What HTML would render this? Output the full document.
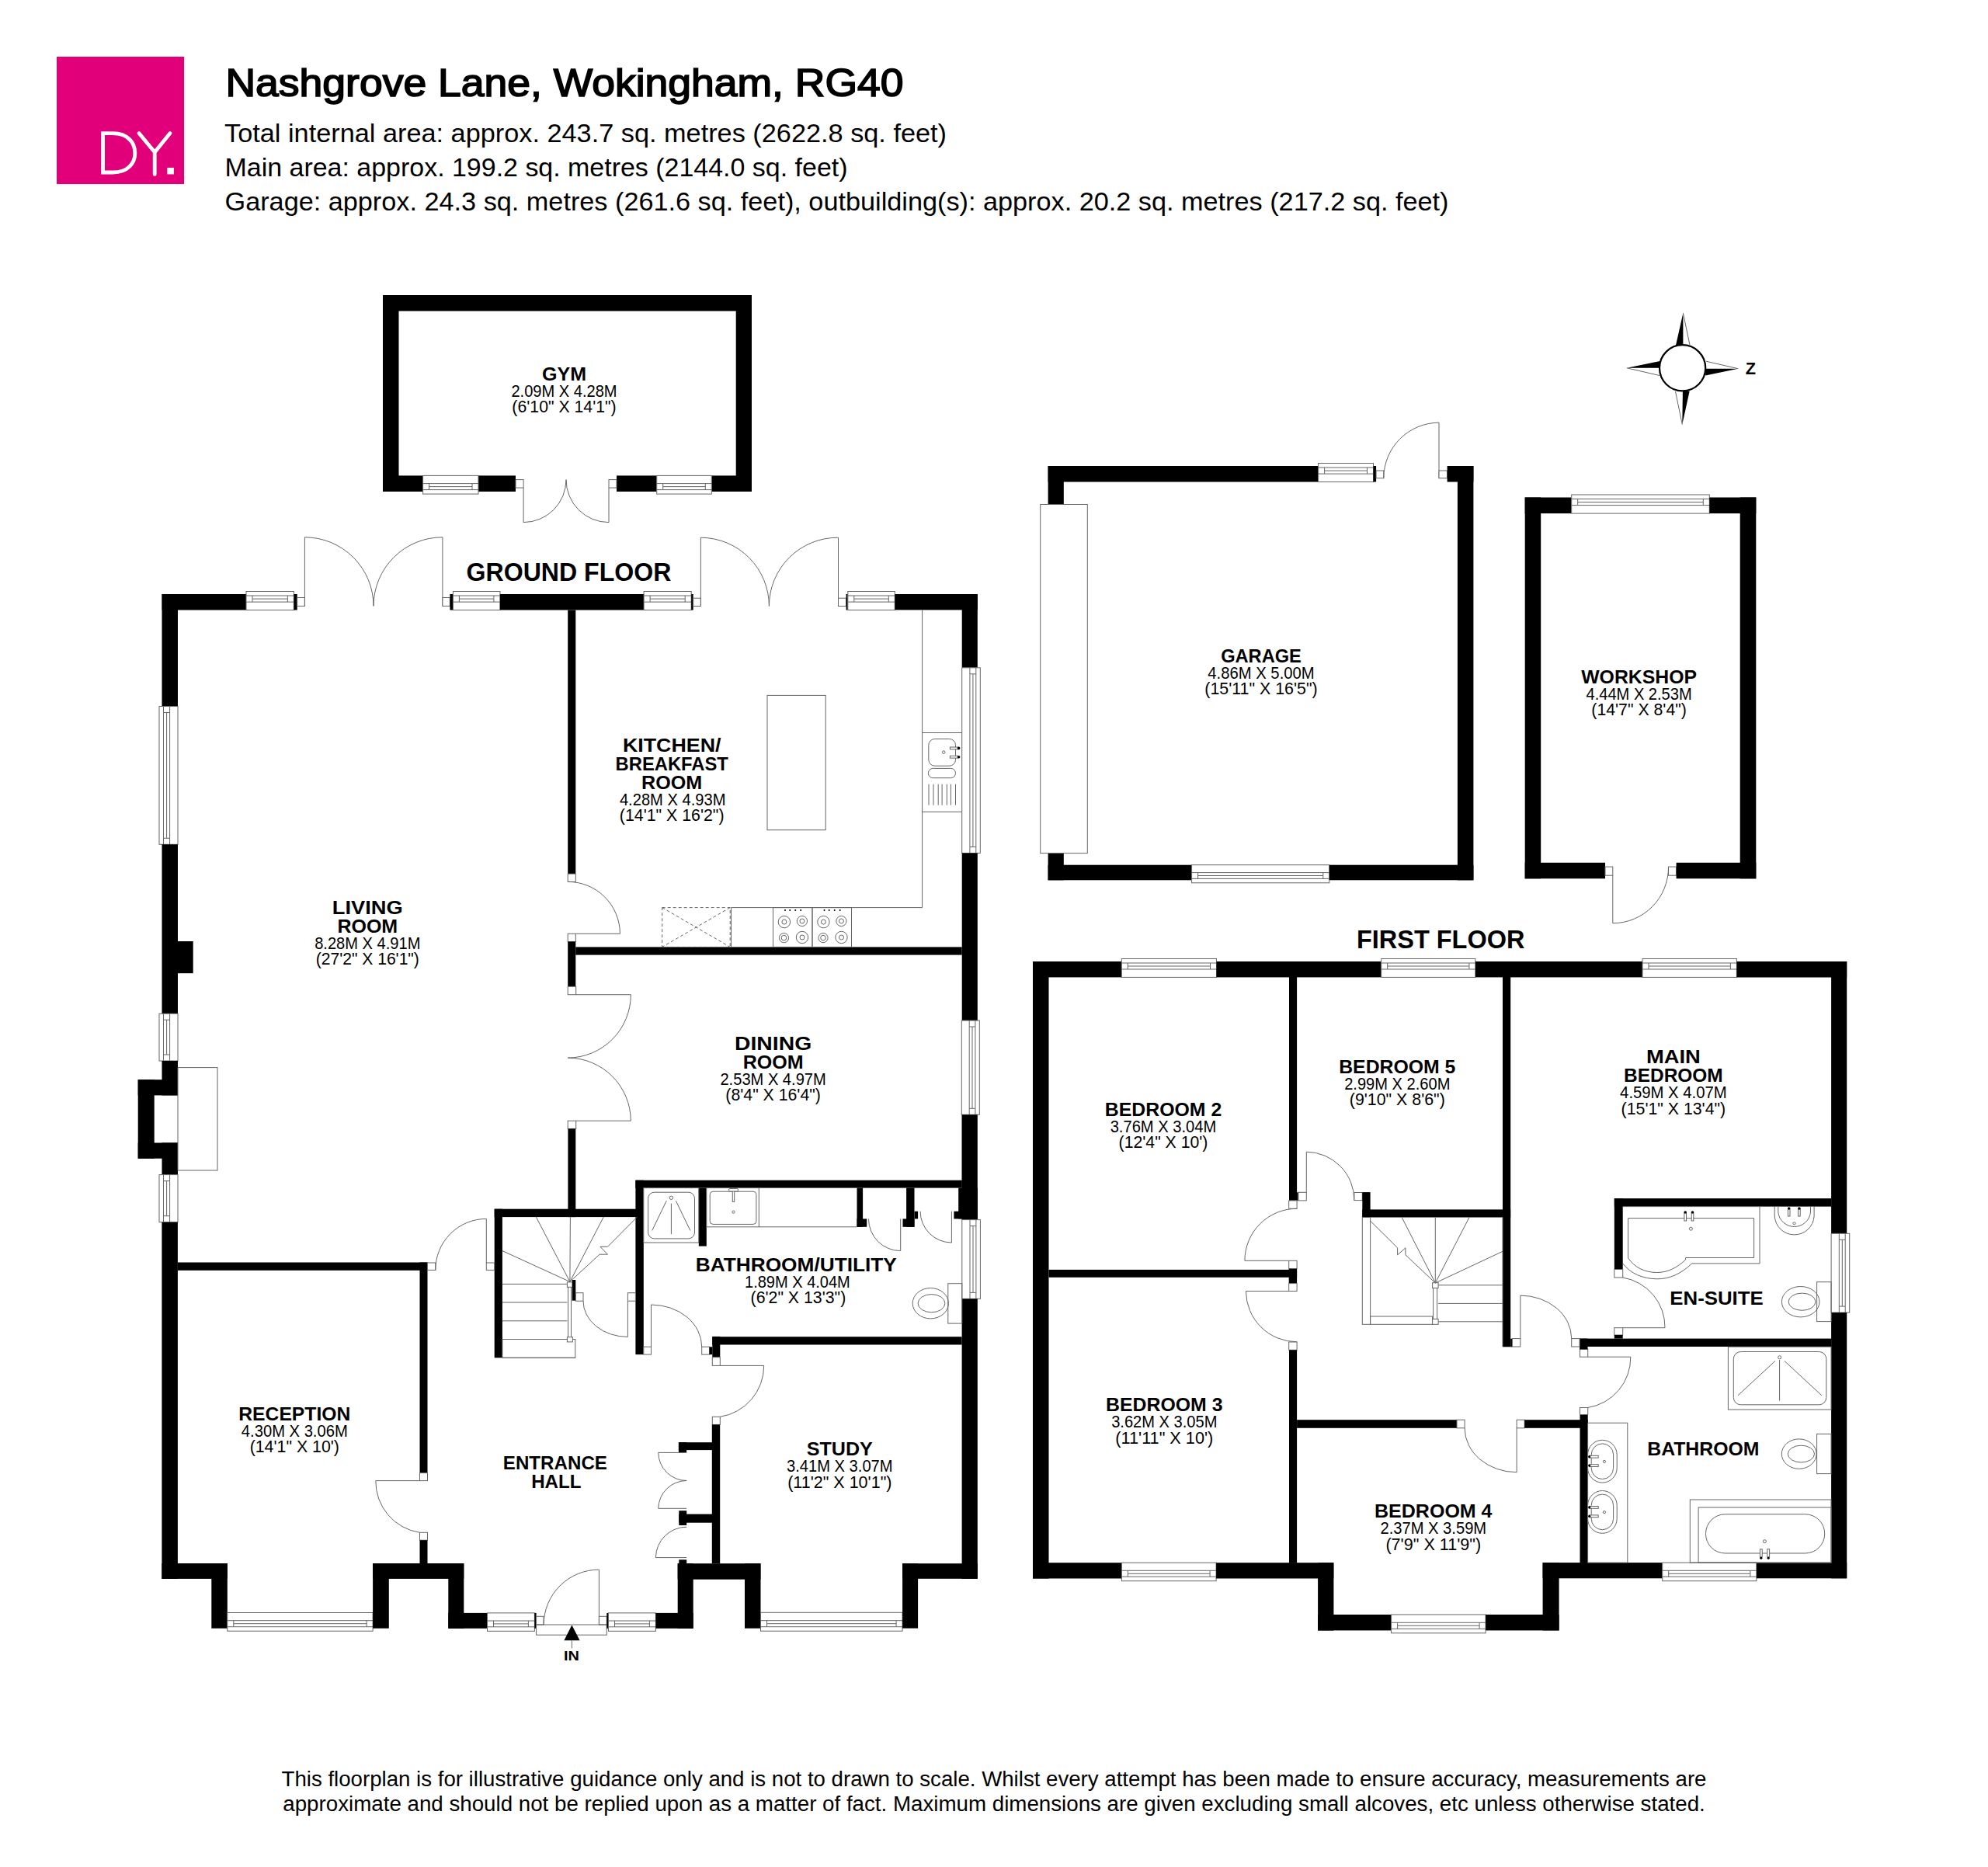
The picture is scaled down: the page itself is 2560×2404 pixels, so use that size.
<!DOCTYPE html>
<html><head><meta charset="utf-8"><title>Nashgrove Lane, Wokingham, RG40</title>
<style>
html,body{margin:0;padding:0;background:#fff;}
svg{display:block;}
.l{fill:none;stroke:#666;stroke-width:1.0;}
text{font-family:"Liberation Sans",sans-serif;fill:#000;}
text.b{font-weight:bold;}
text.m{stroke:#000;stroke-width:1.7;}
</style></head><body>
<svg width="2560" height="2404" viewBox="0 0 2560 2404">
<rect width="2560" height="2404" fill="#fff"/>
<rect x="73" y="73" width="164" height="164" fill="#e2007a"/><path d="M132.6 171.7 L145 171.7 C165 171.7 173.8 184 173.8 197 C173.8 210 165 222 145 222 L132.6 222 Z" fill="none" stroke="#fff" stroke-width="4.8"/><path d="M179 171.5 L199.2 196 L219 171.5 M199.2 196 L199.2 224.4" fill="none" stroke="#fff" stroke-width="4.8" stroke-linecap="round" stroke-linejoin="round"/><rect x="215.3" y="215.9" width="8.6" height="8.5" fill="#fff"/>
<g fill="#000">
<rect x="493" y="380" width="475" height="20.5"/>
<rect x="493" y="380" width="20.5" height="253"/>
<rect x="947.7" y="380" width="20.3" height="253"/>
<rect x="493" y="612.4" width="51.6" height="20.6"/>
<rect x="616" y="612.4" width="48" height="20.6"/>
<rect x="794" y="612.4" width="51.7" height="20.6"/>
<rect x="916.3" y="612.4" width="51.7" height="20.6"/>
<rect x="544.6" y="612.4" width="71.4" height="23.7" fill="#fff"/>
<rect class="l" x="544.6" y="612.4" width="71.4" height="23.7"/>
<path class="l" d="M544.6 622.6 L616 622.6"/>
<path class="l" d="M552.6 626.6 L608 626.6"/>
<path class="l" d="M544.6 630.6 L616 630.6"/>
<path class="l" d="M552.6 622.6 L552.6 630.6"/>
<path class="l" d="M608 622.6 L608 630.6"/>
<rect x="845.7" y="612.4" width="70.6" height="23.7" fill="#fff"/>
<rect class="l" x="845.7" y="612.4" width="70.6" height="23.7"/>
<path class="l" d="M845.7 622.6 L916.3 622.6"/>
<path class="l" d="M853.7 626.6 L908.3 626.6"/>
<path class="l" d="M845.7 630.6 L916.3 630.6"/>
<path class="l" d="M853.7 622.6 L853.7 630.6"/>
<path class="l" d="M908.3 622.6 L908.3 630.6"/>
<rect class="l" x="664" y="617.6" width="10.1" height="10.5" style="fill:#fff"/>
<rect class="l" x="784" y="617.6" width="10" height="10.5" style="fill:#fff"/>
<path class="l" d="M674.1 628.1 L674.1 672.6"/>
<path class="l" d="M674.1 672.6 A55 55 0 0 0 729 617.6"/>
<path class="l" d="M784 628.1 L784 672.6"/>
<path class="l" d="M784 672.6 A55 55 0 0 1 729 617.6"/>
<rect x="208.6" y="765" width="108.4" height="20.5"/>
<rect x="317" y="761.5" width="61.4" height="24" fill="#fff"/>
<rect class="l" x="317" y="761.5" width="61.4" height="24"/>
<path class="l" d="M317 775.1 L378.4 775.1"/>
<path class="l" d="M325 771.1 L370.4 771.1"/>
<path class="l" d="M317 767 L378.4 767"/>
<path class="l" d="M325 775.1 L325 767"/>
<path class="l" d="M370.4 775.1 L370.4 767"/>
<rect x="378.4" y="765" width="4.3" height="20.5"/>
<rect class="l" x="382.7" y="769.5" width="9.7" height="10.9" style="fill:#fff"/>
<path class="l" d="M392.4 780.4 L392.4 691.8"/>
<path class="l" d="M392.4 691.8 A88.6 88.6 0 0 1 481 780.4"/>
<path class="l" d="M569.9 780.4 L569.9 691.8"/>
<path class="l" d="M569.9 691.8 A88.6 88.6 0 0 0 481 780.4"/>
<rect class="l" x="569.9" y="769.5" width="9.5" height="10.9" style="fill:#fff"/>
<rect x="579.4" y="765" width="4" height="20.5"/>
<rect x="583.4" y="761.5" width="60.5" height="24" fill="#fff"/>
<rect class="l" x="583.4" y="761.5" width="60.5" height="24"/>
<path class="l" d="M583.4 775.1 L643.9 775.1"/>
<path class="l" d="M591.4 771.1 L635.9 771.1"/>
<path class="l" d="M583.4 767 L643.9 767"/>
<path class="l" d="M591.4 775.1 L591.4 767"/>
<path class="l" d="M635.9 775.1 L635.9 767"/>
<rect x="643.9" y="765" width="185.2" height="20.5"/>
<rect x="829.1" y="761.5" width="61.1" height="24" fill="#fff"/>
<rect class="l" x="829.1" y="761.5" width="61.1" height="24"/>
<path class="l" d="M829.1 775.1 L890.2 775.1"/>
<path class="l" d="M837.1 771.1 L882.2 771.1"/>
<path class="l" d="M829.1 767 L890.2 767"/>
<path class="l" d="M837.1 775.1 L837.1 767"/>
<path class="l" d="M882.2 775.1 L882.2 767"/>
<rect x="890.2" y="765" width="2.5" height="20.5"/>
<rect class="l" x="892.7" y="770.2" width="9.7" height="10.3" style="fill:#fff"/>
<path class="l" d="M902.4 780.5 L902.4 692.2"/>
<path class="l" d="M902.4 692.2 A88.3 88.3 0 0 1 990.4 780.5"/>
<path class="l" d="M1079.5 780.5 L1079.5 692.2"/>
<path class="l" d="M1079.5 692.2 A88.3 88.3 0 0 0 990.4 780.5"/>
<rect class="l" x="1079.5" y="770.2" width="10.1" height="10.3" style="fill:#fff"/>
<rect x="1089.6" y="765" width="2.2" height="20.5"/>
<rect x="1091.8" y="761.5" width="60.5" height="24" fill="#fff"/>
<rect class="l" x="1091.8" y="761.5" width="60.5" height="24"/>
<path class="l" d="M1091.8 775.1 L1152.3 775.1"/>
<path class="l" d="M1099.8 771.1 L1144.3 771.1"/>
<path class="l" d="M1091.8 767 L1152.3 767"/>
<path class="l" d="M1099.8 775.1 L1099.8 767"/>
<path class="l" d="M1144.3 775.1 L1144.3 767"/>
<rect x="1152.3" y="765" width="106.5" height="20.4"/>
<rect x="208.5" y="765" width="20.5" height="144.5"/>
<rect x="205" y="909.5" width="24" height="177.8" fill="#fff"/>
<rect class="l" x="205" y="909.5" width="24" height="177.8"/>
<path class="l" d="M218.6 909.5 L218.6 1087.3"/>
<path class="l" d="M214.6 917.5 L214.6 1079.3"/>
<path class="l" d="M210.5 909.5 L210.5 1087.3"/>
<path class="l" d="M218.6 917.5 L210.5 917.5"/>
<path class="l" d="M218.6 1079.3 L210.5 1079.3"/>
<rect x="208.5" y="1087.3" width="20.5" height="217.9"/>
<rect x="229" y="1212" width="19.7" height="41.2"/>
<rect x="205" y="1305.2" width="24" height="60.8" fill="#fff"/>
<rect class="l" x="205" y="1305.2" width="24" height="60.8"/>
<path class="l" d="M218.6 1305.2 L218.6 1366"/>
<path class="l" d="M214.6 1313.2 L214.6 1358"/>
<path class="l" d="M210.5 1305.2 L210.5 1366"/>
<path class="l" d="M218.6 1313.2 L210.5 1313.2"/>
<path class="l" d="M218.6 1358 L210.5 1358"/>
<rect x="208.5" y="1366" width="20.5" height="44.4"/>
<rect x="177.7" y="1390.2" width="51.3" height="20.2"/>
<rect x="177.7" y="1390.2" width="21" height="101.5"/>
<rect x="177.7" y="1471.5" width="51.3" height="20.2"/>
<rect x="208.5" y="1471.5" width="20.5" height="41.1"/>
<rect class="l" x="229" y="1374.6" width="51" height="132.4"/>
<rect x="205" y="1512.6" width="24" height="61.1" fill="#fff"/>
<rect class="l" x="205" y="1512.6" width="24" height="61.1"/>
<path class="l" d="M218.6 1512.6 L218.6 1573.7"/>
<path class="l" d="M214.6 1520.6 L214.6 1565.7"/>
<path class="l" d="M210.5 1512.6 L210.5 1573.7"/>
<path class="l" d="M218.6 1520.6 L210.5 1520.6"/>
<path class="l" d="M218.6 1565.7 L210.5 1565.7"/>
<rect x="208.4" y="1573.7" width="20.5" height="459.2"/>
<rect x="1238.7" y="765" width="20.1" height="94.8"/>
<rect x="1238.7" y="859.8" width="23.6" height="238.7" fill="#fff"/>
<rect class="l" x="1238.7" y="859.8" width="23.6" height="238.7"/>
<path class="l" d="M1248.9 859.8 L1248.9 1098.5"/>
<path class="l" d="M1252.9 867.8 L1252.9 1090.5"/>
<path class="l" d="M1256.8 859.8 L1256.8 1098.5"/>
<path class="l" d="M1248.9 867.8 L1256.8 867.8"/>
<path class="l" d="M1248.9 1090.5 L1256.8 1090.5"/>
<rect x="1238.7" y="1098.5" width="20.1" height="215.5"/>
<rect x="1238.3" y="1314" width="23" height="121.3" fill="#fff"/>
<rect class="l" x="1238.3" y="1314" width="23" height="121.3"/>
<path class="l" d="M1248.2 1314 L1248.2 1435.3"/>
<path class="l" d="M1252 1322 L1252 1427.3"/>
<path class="l" d="M1255.9 1314 L1255.9 1435.3"/>
<path class="l" d="M1248.2 1322 L1255.9 1322"/>
<path class="l" d="M1248.2 1427.3 L1255.9 1427.3"/>
<rect x="1238.5" y="1435.3" width="20.3" height="135.3"/>
<rect x="1238.8" y="1570.6" width="23.6" height="101.8" fill="#fff"/>
<rect class="l" x="1238.8" y="1570.6" width="23.6" height="101.8"/>
<path class="l" d="M1249 1570.6 L1249 1672.4"/>
<path class="l" d="M1253 1578.6 L1253 1664.4"/>
<path class="l" d="M1256.9 1570.6 L1256.9 1672.4"/>
<path class="l" d="M1249 1578.6 L1256.9 1578.6"/>
<path class="l" d="M1249 1664.4 L1256.9 1664.4"/>
<rect x="1238.6" y="1672.4" width="20.2" height="360.4"/>
<rect x="208.4" y="2013" width="84.4" height="19.9"/>
<rect x="272.3" y="2013" width="20.5" height="83.7"/>
<rect x="292.8" y="2076.5" width="187.3" height="23.7" fill="#fff"/>
<rect class="l" x="292.8" y="2076.5" width="187.3" height="23.7"/>
<path class="l" d="M292.8 2086.7 L480.1 2086.7"/>
<path class="l" d="M300.8 2090.7 L472.1 2090.7"/>
<path class="l" d="M292.8 2094.7 L480.1 2094.7"/>
<path class="l" d="M300.8 2086.7 L300.8 2094.7"/>
<path class="l" d="M472.1 2086.7 L472.1 2094.7"/>
<rect x="480.1" y="2013" width="20.7" height="83.7"/>
<rect x="480.1" y="2013" width="117.2" height="19.9"/>
<rect x="577.3" y="2013" width="20" height="83.8"/>
<rect x="577.3" y="2076.9" width="50.2" height="19.9"/>
<rect x="627.5" y="2076.9" width="60.9" height="23.4" fill="#fff"/>
<rect class="l" x="627.5" y="2076.9" width="60.9" height="23.4"/>
<path class="l" d="M627.5 2087 L688.4 2087"/>
<path class="l" d="M635.5 2090.9 L680.4 2090.9"/>
<path class="l" d="M627.5 2094.8 L688.4 2094.8"/>
<path class="l" d="M635.5 2087 L635.5 2094.8"/>
<path class="l" d="M680.4 2087 L680.4 2094.8"/>
<rect x="688.4" y="2076.9" width="2.2" height="19.9"/>
<rect class="l" x="690.6" y="2081.3" width="9.5" height="10.7" style="fill:#fff"/>
<path class="l" d="M771.4 2092 L771.4 2021.1"/>
<path class="l" d="M771.4 2021.1 A71.3 71.3 0 0 0 700.1 2092"/>
<rect class="l" x="771.4" y="2081.3" width="9.9" height="10.7" style="fill:#fff"/>
<rect class="l" x="690.6" y="2092" width="90.7" height="13.2"/>
<rect x="781.3" y="2076.9" width="2.2" height="19.9"/>
<rect x="783.5" y="2076.9" width="60.9" height="23.4" fill="#fff"/>
<rect class="l" x="783.5" y="2076.9" width="60.9" height="23.4"/>
<path class="l" d="M783.5 2087 L844.4 2087"/>
<path class="l" d="M791.5 2090.9 L836.4 2090.9"/>
<path class="l" d="M783.5 2094.8 L844.4 2094.8"/>
<path class="l" d="M791.5 2087 L791.5 2094.8"/>
<path class="l" d="M836.4 2087 L836.4 2094.8"/>
<rect x="844.4" y="2076.9" width="48.3" height="19.9"/>
<rect x="872.7" y="2013.2" width="20" height="83.6"/>
<rect x="872.7" y="2013.2" width="106.7" height="20.5"/>
<rect x="959" y="2013.2" width="20.5" height="83.5"/>
<rect x="979.5" y="2076.3" width="182.6" height="23.9" fill="#fff"/>
<rect class="l" x="979.5" y="2076.3" width="182.6" height="23.9"/>
<path class="l" d="M979.5 2086.7 L1162.1 2086.7"/>
<path class="l" d="M987.5 2090.7 L1154.1 2090.7"/>
<path class="l" d="M979.5 2094.7 L1162.1 2094.7"/>
<path class="l" d="M987.5 2086.7 L987.5 2094.7"/>
<path class="l" d="M1154.1 2086.7 L1154.1 2094.7"/>
<rect x="1162.1" y="2013.2" width="20" height="83.4"/>
<rect x="1162.1" y="2013.2" width="96.7" height="19.6"/>
<path d="M736.4 2092.4 L746.6 2112.3 L726.4 2112.3 Z"/>
<path class="l" d="M736.4 2112.3 L736.4 2122.3"/>
<rect x="731.2" y="785.5" width="10.1" height="339.7"/>
<rect class="l" x="731.2" y="1125.2" width="10.1" height="10.2" style="fill:#fff"/>
<path class="l" d="M731.2 1135.4 A67 67 0 0 1 798.4 1202.3"/>
<path class="l" d="M741.3 1202.3 L798.4 1202.3"/>
<rect class="l" x="731.2" y="1202.3" width="10.1" height="10.2" style="fill:#fff"/>
<rect x="731.2" y="1212.5" width="10.1" height="57.8"/>
<rect x="741.3" y="1219.4" width="497.4" height="10.2"/>
<rect class="l" x="731.2" y="1270.3" width="10.5" height="10.4" style="fill:#fff"/>
<path class="l" d="M741.7 1280.7 L812.3 1280.7"/>
<path class="l" d="M812.3 1280.7 A81.3 81.3 0 0 1 731.2 1362.1"/>
<path class="l" d="M741.7 1443.2 L812.3 1443.2"/>
<path class="l" d="M812.3 1443.2 A81.3 81.3 0 0 0 731.2 1362.1"/>
<rect class="l" x="731.2" y="1443.2" width="10.5" height="10.2" style="fill:#fff"/>
<rect x="731.4" y="1453.4" width="9.9" height="113.7"/>
<rect x="818.4" y="1519.7" width="420.4" height="9.9"/>
<rect x="818.4" y="1519.7" width="10.4" height="224.4"/>
<rect x="636.7" y="1556.7" width="183.7" height="10.4"/>
<rect x="636.7" y="1556.7" width="10.2" height="191.6"/>
<rect x="899.8" y="1529.6" width="10" height="75"/>
<rect x="1103.5" y="1529.6" width="7.6" height="50.2"/>
<rect x="1103.5" y="1569.4" width="12.7" height="10.4"/>
<rect x="1167.1" y="1529.6" width="10.4" height="50.2"/>
<rect x="1162.5" y="1569.4" width="15" height="10.4"/>
<rect x="1177.5" y="1559.7" width="4.6" height="9.7"/>
<rect x="1228.4" y="1559.7" width="10.4" height="9.7"/>
<rect x="1234.2" y="1529.6" width="24.7" height="39.8"/>
<path class="l" d="M1159.7 1569.4 L1159.7 1610.6"/>
<path class="l" d="M1118.5 1569.4 A41.2 41.2 0 0 0 1159.7 1610.6"/>
<path class="l" d="M1225.4 1559.7 L1225.4 1600"/>
<path class="l" d="M1185.1 1559.7 A40.3 40.3 0 0 0 1225.4 1600"/>
<rect class="l" x="828.8" y="1529.6" width="71" height="70.4"/>
<rect class="l" x="834.6" y="1535.2" width="59.9" height="59.7" rx="8"/>
<circle class="l" cx="864.4" cy="1542.3" r="2.2"/>
<path class="l" d="M858.2 1546.3 L839.7 1584.5"/>
<path class="l" d="M864.4 1549.7 L864.4 1589.1"/>
<path class="l" d="M870.4 1546.3 L888.9 1584.5"/>
<rect class="l" x="909.8" y="1529.6" width="67.5" height="50.2"/>
<rect class="l" x="914.2" y="1534.2" width="59.7" height="42.2" rx="4"/>
<path class="l" d="M977.3 1579.8 L1103.5 1579.8"/>
<rect class="l" x="943.3" y="1531" width="2.4" height="16.4" style="fill:#fff"/>
<rect class="l" x="938.5" y="1530.5" width="12" height="3.5" rx="1.5" style="fill:#fff"/>
<circle class="l" cx="944.5" cy="1560.6" r="1.6"/>
<rect class="l" x="1220.8" y="1652.7" width="18" height="51.4"/>
<ellipse class="l" cx="1198.3" cy="1678.2" rx="23.1" ry="19.7"/>
<ellipse class="l" cx="1199.5" cy="1678.2" rx="17.4" ry="11.6"/>
<rect x="229" y="1625.5" width="321.5" height="10.3"/>
<rect x="540.5" y="1625.5" width="10" height="271.1"/>
<rect class="l" x="540.5" y="1896.6" width="10" height="10" style="fill:#fff"/>
<path class="l" d="M540.5 1906.6 L483.8 1906.6"/>
<path class="l" d="M483.8 1906.6 A66.7 66.7 0 0 0 540.5 1973.3"/>
<rect class="l" x="540.5" y="1973.3" width="10" height="9.9" style="fill:#fff"/>
<rect x="540.5" y="1983.2" width="10" height="29.8"/>
<rect class="l" x="550.4" y="1626" width="10.4" height="9.4" style="fill:#fff"/>
<path class="l" d="M560.8 1635.4 A65.5 65.5 0 0 1 626.3 1569.4"/>
<path class="l" d="M626.3 1569.4 L626.3 1626"/>
<rect class="l" x="626.3" y="1626" width="10.4" height="9.4" style="fill:#fff"/>
<path class="l" d="M646.9 1653.4 L730.4 1653.4"/>
<path class="l" d="M646.9 1677 L730.4 1677"/>
<path class="l" d="M646.9 1700.8 L730.4 1700.8"/>
<path class="l" d="M646.9 1724.5 L730.4 1724.5"/>
<rect class="l" x="646.9" y="1724.5" width="93.9" height="23.8"/>
<path class="l" d="M646.9 1748.3 L740.8 1748.3"/>
<rect class="l" x="730.4" y="1650.9" width="7" height="6.4" style="fill:#fff"/>
<rect class="l" x="730.4" y="1721.7" width="7" height="6.2" style="fill:#fff"/>
<path class="l" d="M731.6 1657.3 L731.6 1721.7"/>
<path class="l" d="M735.5 1657.3 L735.5 1721.7"/>
<path class="l" d="M733.9 1650.4 L646.9 1610.6"/>
<path class="l" d="M733.9 1650.4 L690.4 1567.1"/>
<path class="l" d="M733.9 1650.4 L734.4 1567.1"/>
<path class="l" d="M733.9 1650.4 L777.2 1567.1"/>
<path class="l" d="M733.9 1650.4 L772.1 1615.2 L782.5 1615.2 L772.9 1605.3 L782.5 1605.3 L820.4 1567.1"/>
<rect x="736.7" y="1648" width="4.6" height="26.7"/>
<rect class="l" x="741.3" y="1664.7" width="9.7" height="10.5" style="fill:#fff"/>
<path class="l" d="M751 1675.2 A57.4 46.2 0 0 0 808.4 1721.4"/>
<path class="l" d="M808.4 1675.2 L808.4 1721.4"/>
<rect class="l" x="808.4" y="1664.7" width="10" height="10.5" style="fill:#fff"/>
<rect class="l" x="828.8" y="1734.2" width="9.7" height="9.9" style="fill:#fff"/>
<path class="l" d="M838.5 1734.2 L838.5 1680"/>
<path class="l" d="M838.5 1680 A65.2 54.2 0 0 1 903.7 1734.2"/>
<rect class="l" x="903.7" y="1734.2" width="9.8" height="9.9" style="fill:#fff"/>
<rect x="913.5" y="1734.3" width="3.8" height="9.8"/>
<rect x="917.3" y="1720.9" width="10" height="26.8"/>
<rect x="917.3" y="1721.2" width="321.3" height="10.3"/>
<rect class="l" x="917.3" y="1747.7" width="10" height="10.7" style="fill:#fff"/>
<path class="l" d="M927.3 1758.4 L983.7 1758.4"/>
<path class="l" d="M983.7 1758.4 A66.4 66.4 0 0 1 927.3 1824.3"/>
<rect class="l" x="917.3" y="1824.3" width="10" height="10.1" style="fill:#fff"/>
<rect x="916.8" y="1834.4" width="10.4" height="178.8"/>
<rect x="873.9" y="1857.2" width="43.1" height="9.9"/>
<rect x="873.9" y="1857.2" width="10.2" height="13.1"/>
<rect x="874.3" y="1949.6" width="42.7" height="11.1"/>
<rect x="874.3" y="1945.2" width="9.9" height="18.8"/>
<rect x="874.3" y="2008.3" width="9.9" height="6.7"/>
<path class="l" d="M847.7 1870.4 L884.2 1870.4"/>
<path class="l" d="M847.7 1870.4 A36.5 36.5 0 0 0 884.2 1906.5"/>
<path class="l" d="M847.7 1942.3 L884.2 1942.3"/>
<path class="l" d="M847.7 1942.3 A36.5 36.5 0 0 1 884.2 1906.5"/>
<path class="l" d="M844.4 2005.6 L884.2 2005.6"/>
<path class="l" d="M844.4 2005.6 A39.8 39.8 0 0 1 884.2 1966.2"/>
<rect class="l" x="988" y="895.4" width="75.2" height="173.3"/>
<path class="l" d="M1187.6 785.5 L1187.6 1168.6 L941.5 1168.6"/>
<path class="l" d="M1187.6 943.5 L1238.7 943.5"/>
<path class="l" d="M1187.6 1045.4 L1238.7 1045.4"/>
<rect class="l" x="1195.8" y="951.5" width="34.7" height="34.7" rx="8"/>
<rect class="l" x="1195.4" y="989.4" width="35.1" height="12.3" rx="6"/>
<circle class="l" cx="1215.2" cy="968.6" r="1.8"/>
<rect class="l" x="1223.4" y="962" width="10.6" height="2.8" style="fill:#fff"/>
<circle cx="1234.6" cy="963.4" r="1.8"/>
<rect class="l" x="1223.4" y="973.3" width="10.6" height="2.8" style="fill:#fff"/>
<circle cx="1234.6" cy="974.7" r="1.8"/>
<path class="l" d="M1196 1009.7 L1196 1036.7"/>
<path class="l" d="M1202 1009.7 L1202 1036.7"/>
<path class="l" d="M1208.2 1009.7 L1208.2 1036.7"/>
<path class="l" d="M1213.1 1009.7 L1213.1 1036.7"/>
<path class="l" d="M1219.3 1009.7 L1219.3 1036.7"/>
<path class="l" d="M1224.4 1009.7 L1224.4 1036.7"/>
<path class="l" d="M1230.5 1009.7 L1230.5 1036.7"/>
<g class="l" style="stroke-dasharray:4 3"><rect x="852.7" y="1168.6" width="87.5" height="50.8"/><path d="M852.7 1168.6 L940.2 1219.4 M940.2 1168.6 L852.7 1219.4"/></g>
<path class="l" d="M941.5 1168.6 L941.5 1219.4"/>
<rect class="l" x="995.5" y="1168.6" width="50.5" height="50.8"/>
<circle cx="1011" cy="1171.9" r="1"/>
<circle cx="1017.2" cy="1171.9" r="1"/>
<circle cx="1024.2" cy="1171.9" r="1"/>
<circle cx="1031.2" cy="1171.9" r="1"/>
<circle class="l" cx="1009.9" cy="1187.1" r="7.7"/>
<circle class="l" cx="1009.9" cy="1187.1" r="3"/>
<circle class="l" cx="1032.9" cy="1186" r="6.6"/>
<circle class="l" cx="1032.9" cy="1186" r="3"/>
<circle class="l" cx="1009.5" cy="1207.6" r="6.1"/>
<circle class="l" cx="1009.5" cy="1207.6" r="3.3"/>
<circle class="l" cx="1033" cy="1207" r="7.7"/>
<circle class="l" cx="1033" cy="1207" r="3"/>
<rect class="l" x="1046" y="1168.6" width="50.5" height="50.8"/>
<circle cx="1061.5" cy="1171.9" r="1"/>
<circle cx="1067.7" cy="1171.9" r="1"/>
<circle cx="1074.7" cy="1171.9" r="1"/>
<circle cx="1081.7" cy="1171.9" r="1"/>
<circle class="l" cx="1060.4" cy="1187.1" r="7.7"/>
<circle class="l" cx="1060.4" cy="1187.1" r="3"/>
<circle class="l" cx="1083.4" cy="1186" r="6.6"/>
<circle class="l" cx="1083.4" cy="1186" r="3"/>
<circle class="l" cx="1060" cy="1207.6" r="6.1"/>
<circle class="l" cx="1060" cy="1207.6" r="3.3"/>
<circle class="l" cx="1083.5" cy="1207" r="7.7"/>
<circle class="l" cx="1083.5" cy="1207" r="3"/>
<rect x="1349.6" y="600" width="348" height="20.5"/>
<rect x="1697.6" y="596.5" width="70.9" height="24" fill="#fff"/>
<rect class="l" x="1697.6" y="596.5" width="70.9" height="24"/>
<path class="l" d="M1697.6 610.1 L1768.5 610.1"/>
<path class="l" d="M1705.6 606.1 L1760.5 606.1"/>
<path class="l" d="M1697.6 602 L1768.5 602"/>
<path class="l" d="M1705.6 610.1 L1705.6 602"/>
<path class="l" d="M1760.5 610.1 L1760.5 602"/>
<rect x="1768.5" y="600" width="3.6" height="20.5"/>
<rect class="l" x="1772.1" y="606" width="9.7" height="9.7" style="fill:#fff"/>
<path class="l" d="M1853 615.7 L1853 544.2"/>
<path class="l" d="M1853 544.2 A71.5 71.5 0 0 0 1781.8 615.7"/>
<rect class="l" x="1853" y="606" width="10.6" height="9.7" style="fill:#fff"/>
<rect x="1863.6" y="600" width="33.8" height="20.5"/>
<rect x="1349.6" y="600" width="20.2" height="49.5"/>
<rect x="1349.6" y="1098.6" width="20.2" height="34.7"/>
<rect class="l" x="1339.7" y="649.5" width="60.6" height="449.1" style="fill:#fff"/>
<rect x="1876.9" y="600" width="20.5" height="533.3"/>
<rect x="1349.6" y="1113.7" width="185" height="19.6"/>
<rect x="1534.6" y="1113.7" width="177.2" height="23.1" fill="#fff"/>
<rect class="l" x="1534.6" y="1113.7" width="177.2" height="23.1"/>
<path class="l" d="M1534.6 1123.6 L1711.8 1123.6"/>
<path class="l" d="M1542.6 1127.5 L1703.8 1127.5"/>
<path class="l" d="M1534.6 1131.4 L1711.8 1131.4"/>
<path class="l" d="M1542.6 1123.6 L1542.6 1131.4"/>
<path class="l" d="M1703.8 1123.6 L1703.8 1131.4"/>
<rect x="1711.8" y="1113.7" width="185.6" height="19.6"/>
<rect x="1963.7" y="640.5" width="20.5" height="490.8"/>
<rect x="2240.7" y="640.5" width="20.6" height="490.8"/>
<rect x="1963.7" y="640.5" width="60" height="20.6"/>
<rect x="2023.7" y="637" width="177.6" height="24.1" fill="#fff"/>
<rect class="l" x="2023.7" y="637" width="177.6" height="24.1"/>
<path class="l" d="M2023.7 650.6 L2201.3 650.6"/>
<path class="l" d="M2031.7 646.6 L2193.3 646.6"/>
<path class="l" d="M2023.7 642.5 L2201.3 642.5"/>
<path class="l" d="M2031.7 650.6 L2031.7 642.5"/>
<path class="l" d="M2193.3 650.6 L2193.3 642.5"/>
<rect x="2201.3" y="640.5" width="60" height="20.6"/>
<rect x="1963.7" y="1110.8" width="103.3" height="20.5"/>
<rect class="l" x="2067" y="1116.1" width="9.8" height="11.1" style="fill:#fff"/>
<path class="l" d="M2076.8 1127.2 L2076.8 1188.8"/>
<path class="l" d="M2076.8 1188.8 A72 72 0 0 0 2148.5 1116.1"/>
<rect class="l" x="2148.5" y="1116.1" width="10.1" height="11.1" style="fill:#fff"/>
<rect x="2158.6" y="1110.8" width="102.7" height="20.5"/>
<circle cx="2166.6" cy="473.8" r="29.6" fill="#fff" stroke="#000" stroke-width="2.2"/>
<path d="M2167.4 403.1 L2157.8 445.5 L2167.4 444.2 Z"/>
<path class="l" d="M2167.4 403.1 L2176 444.2"/>
<path d="M2166.3 546.6 L2175.7 503.4 L2166.9 503.8 Z"/>
<path class="l" d="M2166.3 546.6 L2157.5 504"/>
<path d="M2094.9 473.8 L2137.5 465 L2137.5 473.8 Z"/>
<path class="l" d="M2094.9 473.8 L2137 483.5"/>
<path d="M2238.2 474.7 L2196.2 483.5 L2196.2 474.7 Z"/>
<path class="l" d="M2238.2 474.7 L2197 465.2"/>
<rect x="1330" y="1238" width="114.3" height="20.4"/>
<rect x="1444.3" y="1234.5" width="122.2" height="23.9" fill="#fff"/>
<rect class="l" x="1444.3" y="1234.5" width="122.2" height="23.9"/>
<path class="l" d="M1444.3 1248 L1566.5 1248"/>
<path class="l" d="M1452.3 1244 L1558.5 1244"/>
<path class="l" d="M1444.3 1240 L1566.5 1240"/>
<path class="l" d="M1452.3 1248 L1452.3 1240"/>
<path class="l" d="M1558.5 1248 L1558.5 1240"/>
<rect x="1566.5" y="1238" width="212.2" height="20.4"/>
<rect x="1778.7" y="1234.5" width="121.2" height="23.9" fill="#fff"/>
<rect class="l" x="1778.7" y="1234.5" width="121.2" height="23.9"/>
<path class="l" d="M1778.7 1248 L1899.9 1248"/>
<path class="l" d="M1786.7 1244 L1891.9 1244"/>
<path class="l" d="M1778.7 1240 L1899.9 1240"/>
<path class="l" d="M1786.7 1248 L1786.7 1240"/>
<path class="l" d="M1891.9 1248 L1891.9 1240"/>
<rect x="1899.9" y="1238" width="215.1" height="20.4"/>
<rect x="2115" y="1234.5" width="121.4" height="23.9" fill="#fff"/>
<rect class="l" x="2115" y="1234.5" width="121.4" height="23.9"/>
<path class="l" d="M2115 1248 L2236.4 1248"/>
<path class="l" d="M2123 1244 L2228.4 1244"/>
<path class="l" d="M2115 1240 L2236.4 1240"/>
<path class="l" d="M2123 1248 L2123 1240"/>
<path class="l" d="M2228.4 1248 L2228.4 1240"/>
<rect x="2236.4" y="1238" width="141.8" height="20.5"/>
<rect x="1330" y="1238" width="20.5" height="794.5"/>
<rect x="2358.1" y="1238" width="20.1" height="350.3"/>
<rect x="2358.1" y="1588.3" width="23.6" height="101.8" fill="#fff"/>
<rect class="l" x="2358.1" y="1588.3" width="23.6" height="101.8"/>
<path class="l" d="M2368.3 1588.3 L2368.3 1690.1"/>
<path class="l" d="M2372.3 1596.3 L2372.3 1682.1"/>
<path class="l" d="M2376.2 1588.3 L2376.2 1690.1"/>
<path class="l" d="M2368.3 1596.3 L2376.2 1596.3"/>
<path class="l" d="M2368.3 1682.1 L2376.2 1682.1"/>
<rect x="2358.1" y="1690.1" width="20.1" height="342.2"/>
<rect x="1330" y="2012.2" width="114.4" height="20.3"/>
<rect x="1444.4" y="2012.2" width="121.7" height="23.5" fill="#fff"/>
<rect class="l" x="1444.4" y="2012.2" width="121.7" height="23.5"/>
<path class="l" d="M1444.4 2022.3 L1566.1 2022.3"/>
<path class="l" d="M1452.4 2026.3 L1558.1 2026.3"/>
<path class="l" d="M1444.4 2030.2 L1566.1 2030.2"/>
<path class="l" d="M1452.4 2022.3 L1452.4 2030.2"/>
<path class="l" d="M1558.1 2022.3 L1558.1 2030.2"/>
<rect x="1566.1" y="2012.2" width="151.2" height="20.3"/>
<rect x="1697.1" y="2012.2" width="20.3" height="87.3"/>
<rect x="1697.1" y="2079" width="94.5" height="20.4"/>
<rect x="1791.6" y="2079" width="121.5" height="23.8" fill="#fff"/>
<rect class="l" x="1791.6" y="2079" width="121.5" height="23.8"/>
<path class="l" d="M1791.6 2089.3 L1913.1 2089.3"/>
<path class="l" d="M1799.6 2093.3 L1905.1 2093.3"/>
<path class="l" d="M1791.6 2097.3 L1913.1 2097.3"/>
<path class="l" d="M1799.6 2089.3 L1799.6 2097.3"/>
<path class="l" d="M1905.1 2089.3 L1905.1 2097.3"/>
<rect x="1913.1" y="2079" width="94.5" height="20.4"/>
<rect x="1986.6" y="2012.1" width="21" height="87.3"/>
<rect x="1986.6" y="2012.1" width="154.1" height="20.2"/>
<rect x="2140.7" y="2012.1" width="121.2" height="23.6" fill="#fff"/>
<rect class="l" x="2140.7" y="2012.1" width="121.2" height="23.6"/>
<path class="l" d="M2140.7 2022.3 L2261.9 2022.3"/>
<path class="l" d="M2148.7 2026.3 L2253.9 2026.3"/>
<path class="l" d="M2140.7 2030.2 L2261.9 2030.2"/>
<path class="l" d="M2148.7 2022.3 L2148.7 2030.2"/>
<path class="l" d="M2253.9 2022.3 L2253.9 2030.2"/>
<rect x="2261.9" y="2012.1" width="116.3" height="20.2"/>
<rect x="1660" y="1258" width="10.1" height="287.9"/>
<rect x="1670.1" y="1535.3" width="1.8" height="10.6"/>
<rect class="l" x="1671.9" y="1535.3" width="10.4" height="10.6" style="fill:#fff"/>
<path class="l" d="M1682.3 1535.3 L1682.3 1483.2"/>
<path class="l" d="M1682.3 1483.2 A62.1 62.1 0 0 1 1743.9 1545.9"/>
<rect class="l" x="1743.9" y="1535.5" width="10.4" height="10.1" style="fill:#fff"/>
<rect x="1754.3" y="1535.1" width="10.3" height="32.4"/>
<rect x="1754.3" y="1557.4" width="190.9" height="10.1"/>
<rect x="1935" y="1258" width="10.2" height="476.3"/>
<rect x="1945.2" y="1723.7" width="2.3" height="10.6"/>
<rect class="l" x="1659.7" y="1545.9" width="10.4" height="10.4" style="fill:#fff"/>
<path class="l" d="M1670.1 1556.3 A67 67 0 0 0 1602.9 1623.3"/>
<path class="l" d="M1602.9 1623.3 L1659.7 1623.3"/>
<rect class="l" x="1659.7" y="1623.3" width="10.4" height="10.4" style="fill:#fff"/>
<rect x="1350.5" y="1634.9" width="319.6" height="9.9"/>
<rect x="1659.7" y="1633.7" width="10.4" height="18.9"/>
<rect class="l" x="1659.7" y="1652.6" width="10.4" height="9.9" style="fill:#fff"/>
<path class="l" d="M1604.4 1662.5 L1659.7 1662.5"/>
<path class="l" d="M1604.4 1662.5 A65.7 65.7 0 0 0 1670.1 1727.8"/>
<rect class="l" x="1659.7" y="1728" width="10.4" height="10.3" style="fill:#fff"/>
<rect x="1660" y="1738.3" width="10.1" height="274.4"/>
<rect x="1670.1" y="1828.2" width="205.9" height="10.6"/>
<rect class="l" x="1876" y="1828.2" width="10.1" height="10.6" style="fill:#fff"/>
<path class="l" d="M1886.1 1838.8 A67 56.9 0 0 0 1953.1 1895.7"/>
<path class="l" d="M1953.1 1838.8 L1953.1 1895.7"/>
<rect class="l" x="1953.1" y="1828.2" width="10.1" height="10.6" style="fill:#fff"/>
<rect x="1963.2" y="1828.2" width="81.5" height="10.6"/>
<rect x="2034.5" y="1821.5" width="10.2" height="191.2"/>
<rect class="l" x="2034.5" y="1812.5" width="10.2" height="9" style="fill:#fff"/>
<path class="l" d="M2044.7 1747.2 L2099.8 1747.2"/>
<path class="l" d="M2099.8 1747.2 A65.3 65.3 0 0 1 2044.7 1812.5"/>
<rect class="l" x="2034.5" y="1737.1" width="10.2" height="10.1" style="fill:#fff"/>
<rect x="2034.1" y="1723.6" width="324" height="10.4"/>
<rect x="2034.1" y="1723.6" width="10.4" height="13.9"/>
<rect class="l" x="1947.4" y="1723.6" width="10.4" height="10.4" style="fill:#fff"/>
<path class="l" d="M1957.8 1723.6 L1957.8 1668.1"/>
<path class="l" d="M1957.8 1668.1 A65.9 55.5 0 0 1 2023.7 1723.6"/>
<rect class="l" x="2023.7" y="1723.6" width="10.4" height="10.4" style="fill:#fff"/>
<rect x="2078.8" y="1543.1" width="10.9" height="91.4"/>
<rect class="l" x="2078.8" y="1634.5" width="10.9" height="10.5" style="fill:#fff"/>
<path class="l" d="M2089.7 1645 A65 64.7 0 0 1 2144 1709.7"/>
<path class="l" d="M2089.7 1709.7 L2144 1709.7"/>
<rect class="l" x="2078.8" y="1709.7" width="10.9" height="9.3" style="fill:#fff"/>
<rect x="2078.8" y="1719" width="10.9" height="4.6"/>
<rect x="2078.8" y="1543.1" width="279.3" height="10.5"/>
<rect class="l" x="1754.3" y="1567.5" width="10.3" height="137.8"/>
<rect class="l" x="1764.6" y="1695" width="80" height="10.3"/>
<rect class="l" x="1844.6" y="1651.7" width="7.5" height="6.8" style="fill:#fff"/>
<rect class="l" x="1844.6" y="1698.4" width="7.5" height="6.9" style="fill:#fff"/>
<path class="l" d="M1845.6 1658.5 L1845.6 1698.4"/>
<path class="l" d="M1850.6 1658.5 L1850.6 1698.4"/>
<path class="l" d="M1852.1 1654.8 L1935 1654.8"/>
<path class="l" d="M1852.1 1678.4 L1935 1678.4"/>
<path class="l" d="M1852.1 1701.8 L1935 1701.8"/>
<path class="l" d="M1848.3 1652 L1809.9 1615.8 L1809.9 1606.8 L1799.6 1615.8 L1799.6 1606.8 L1764.6 1572.1"/>
<path class="l" d="M1848.3 1652 L1805.2 1567.5"/>
<path class="l" d="M1848.3 1652 L1848.3 1567.5"/>
<path class="l" d="M1848.3 1652 L1892 1567.5"/>
<path class="l" d="M1848.3 1652 L1935 1611.3"/>
<path class="l" d="M1935 1567.5 L1935 1734"/>
<rect class="l" x="2225.4" y="1734.2" width="132.6" height="80.8"/>
<rect class="l" x="2232.3" y="1740.5" width="119.5" height="68.3" rx="9.4"/>
<circle class="l" cx="2291.6" cy="1747.8" r="2"/>
<path class="l" d="M2286 1752.4 L2237.9 1796.9"/>
<path class="l" d="M2291.6 1751 L2291.6 1803.6"/>
<path class="l" d="M2297.9 1752.4 L2345.9 1796.9"/>
<rect class="l" x="2339.6" y="1846.4" width="18.4" height="51.2"/>
<ellipse class="l" cx="2316.7" cy="1872.1" rx="22.4" ry="19.2"/>
<ellipse class="l" cx="2319.4" cy="1872.1" rx="17.1" ry="10.9"/>
<rect class="l" x="2176.3" y="1931" width="181.7" height="81.1"/>
<rect class="l" x="2187.1" y="1941" width="170.9" height="71.1"/>
<rect class="l" x="2196.5" y="1949.8" width="153.2" height="50.2" rx="25"/>
<circle class="l" cx="2272.4" cy="1984.7" r="2"/>
<rect class="l" x="2266.4" y="1994.7" width="2.8" height="10.3" style="fill:#fff"/>
<circle cx="2267.8" cy="2006.2" r="1.6"/>
<rect class="l" x="2275.8" y="1994.7" width="2.8" height="10.3" style="fill:#fff"/>
<circle cx="2277.2" cy="2006.2" r="1.6"/>
<rect class="l" x="2044.6" y="1832.2" width="51.2" height="179.9"/>
<rect class="l" x="2044.6" y="1854.3" width="37.6" height="54.8" rx="18.8" style="fill:#fff"/>
<rect class="l" x="2049.2" y="1858.9" width="28.4" height="45.6" rx="14.2"/>
<rect class="l" x="2046.7" y="1874.3" width="11.5" height="2.8" style="fill:#fff"/>
<circle cx="2046.7" cy="1875.7" r="1.6"/>
<rect class="l" x="2046.7" y="1885.7" width="11.5" height="2.8" style="fill:#fff"/>
<circle cx="2046.7" cy="1887.1" r="1.6"/>
<circle class="l" cx="2065.9" cy="1881.9" r="1.6"/>
<rect class="l" x="2044.6" y="1919.5" width="37.6" height="54.8" rx="18.8" style="fill:#fff"/>
<rect class="l" x="2049.2" y="1924.1" width="28.4" height="45.6" rx="14.2"/>
<rect class="l" x="2046.7" y="1939.5" width="11.5" height="2.8" style="fill:#fff"/>
<circle cx="2046.7" cy="1940.9" r="1.6"/>
<rect class="l" x="2046.7" y="1950.9" width="11.5" height="2.8" style="fill:#fff"/>
<circle cx="2046.7" cy="1952.3" r="1.6"/>
<circle class="l" cx="2065.9" cy="1947.1" r="1.6"/>
<path class="l" d="M2089.7 1553.6 L2266 1553.6 L2266 1626.9 L2178.7 1626.9 C2165 1640 2150 1647 2133.6 1646.8 C2115 1646.5 2100 1640 2089.7 1626.9"/>
<path class="l" d="M2096.6 1568.6 L2258.6 1568.6 L2258.6 1619.5 L2170.6 1619.5 L2170.6 1622 C2160 1632 2148 1638.5 2133.6 1638.5 C2118 1638.5 2105 1632 2096.6 1620 Z"/>
<rect class="l" x="2168.9" y="1561" width="2.6" height="11" style="fill:#fff"/>
<circle cx="2170.2" cy="1561" r="1.7"/>
<rect class="l" x="2178.2" y="1561" width="2.6" height="11" style="fill:#fff"/>
<circle cx="2179.5" cy="1561" r="1.7"/>
<circle class="l" cx="2177.4" cy="1582.2" r="2"/>
<path class="l" d="M2285.2 1553.6 L2285.2 1566 A25.5 25.5 0 0 0 2336.1 1566 L2336.1 1553.6"/>
<path class="l" d="M2289.8 1561 A21 21 0 0 0 2331.5 1561 L2331.5 1553.6 M2289.8 1561 L2289.8 1553.6"/>
<rect class="l" x="2302.4" y="1556" width="2.6" height="10" style="fill:#fff"/>
<circle cx="2303.7" cy="1556" r="1.7"/>
<rect class="l" x="2315.6" y="1556" width="2.6" height="10" style="fill:#fff"/>
<circle cx="2316.9" cy="1556" r="1.7"/>
<circle class="l" cx="2310.5" cy="1575.3" r="1.6"/>
<rect class="l" x="2339.6" y="1650.7" width="18.5" height="50.9"/>
<ellipse class="l" cx="2318.7" cy="1676.2" rx="24.3" ry="19.7"/>
<ellipse class="l" cx="2320.5" cy="1676.2" rx="17.4" ry="11.1"/>
</g>
<g>
<text class="b" x="2254.3" y="482.4" font-size="21.7" text-anchor="middle">Z</text>
<text class="m" x="290.5" y="124.2" font-size="50.8" text-anchor="start" textLength="873" lengthAdjust="spacingAndGlyphs">Nashgrove Lane, Wokingham, RG40</text>
<text class="n" x="289" y="183.3" font-size="32.5" text-anchor="start" textLength="930" lengthAdjust="spacingAndGlyphs">Total internal area: approx. 243.7 sq. metres (2622.8 sq. feet)</text>
<text class="n" x="289.5" y="227.2" font-size="32.5" text-anchor="start" textLength="802" lengthAdjust="spacingAndGlyphs">Main area: approx. 199.2 sq. metres (2144.0 sq. feet)</text>
<text class="n" x="289.5" y="270.8" font-size="32.5" text-anchor="start" textLength="1576" lengthAdjust="spacingAndGlyphs">Garage: approx. 24.3 sq. metres (261.6 sq. feet), outbuilding(s): approx. 20.2 sq. metres (217.2 sq. feet)</text>
<text class="n" x="362.5" y="2299.9" font-size="27" text-anchor="start" textLength="1835" lengthAdjust="spacingAndGlyphs">This floorplan is for illustrative guidance only and is not to drawn to scale. Whilst every attempt has been made to ensure accuracy, measurements are</text>
<text class="n" x="364.3" y="2331.7" font-size="27" text-anchor="start" textLength="1831.5" lengthAdjust="spacingAndGlyphs">approximate and should not be replied upon as a matter of fact. Maximum dimensions are given excluding small alcoves, etc unless otherwise stated.</text>
<text class="b" x="732.5" y="747.7" font-size="32.8" text-anchor="middle" textLength="263.8" lengthAdjust="spacingAndGlyphs">GROUND FLOOR</text>
<text class="b" x="1855.2" y="1221.4" font-size="33.4" text-anchor="middle" textLength="216.5" lengthAdjust="spacingAndGlyphs">FIRST FLOOR</text>
<text class="b" x="736" y="2137.8" font-size="16.1" text-anchor="middle" textLength="19.9" lengthAdjust="spacingAndGlyphs">IN</text>
<text class="b" x="726.5" y="489.5" font-size="24.3" text-anchor="middle" textLength="57.1" lengthAdjust="spacingAndGlyphs">GYM</text>
<text class="n" x="726.5" y="510.5" font-size="21.2" text-anchor="middle" textLength="136.1" lengthAdjust="spacingAndGlyphs">2.09M X 4.28M</text>
<text class="n" x="726.5" y="530.8" font-size="21.2" text-anchor="middle" textLength="134.3" lengthAdjust="spacingAndGlyphs">(6'10&quot; X 14'1&quot;)</text>
<text class="b" x="473.3" y="1176.8" font-size="24.3" text-anchor="middle" textLength="91" lengthAdjust="spacingAndGlyphs">LIVING</text>
<text class="b" x="473.3" y="1200.8" font-size="24.3" text-anchor="middle" textLength="77.8" lengthAdjust="spacingAndGlyphs">ROOM</text>
<text class="n" x="473.3" y="1221.8" font-size="21.2" text-anchor="middle" textLength="136.3" lengthAdjust="spacingAndGlyphs">8.28M X 4.91M</text>
<text class="n" x="473.3" y="1242.1" font-size="21.2" text-anchor="middle" textLength="133.2" lengthAdjust="spacingAndGlyphs">(27'2&quot; X 16'1&quot;)</text>
<text class="b" x="865.2" y="967.6" font-size="24.3" text-anchor="middle" textLength="126.5" lengthAdjust="spacingAndGlyphs">KITCHEN/</text>
<text class="b" x="865.2" y="991.6" font-size="24.3" text-anchor="middle" textLength="145.3" lengthAdjust="spacingAndGlyphs">BREAKFAST</text>
<text class="b" x="865.2" y="1015.6" font-size="24.3" text-anchor="middle" textLength="78.2" lengthAdjust="spacingAndGlyphs">ROOM</text>
<text class="n" x="866.2" y="1036.6" font-size="21.2" text-anchor="middle" textLength="136.6" lengthAdjust="spacingAndGlyphs">4.28M X 4.93M</text>
<text class="n" x="865.2" y="1056.9" font-size="21.2" text-anchor="middle" textLength="134.7" lengthAdjust="spacingAndGlyphs">(14'1&quot; X 16'2&quot;)</text>
<text class="b" x="995.6" y="1351.9" font-size="24.3" text-anchor="middle" textLength="99.2" lengthAdjust="spacingAndGlyphs">DINING</text>
<text class="b" x="995.6" y="1375.9" font-size="24.3" text-anchor="middle" textLength="77.9" lengthAdjust="spacingAndGlyphs">ROOM</text>
<text class="n" x="995.6" y="1396.9" font-size="21.2" text-anchor="middle" textLength="136.3" lengthAdjust="spacingAndGlyphs">2.53M X 4.97M</text>
<text class="n" x="995.6" y="1417.2" font-size="21.2" text-anchor="middle" textLength="122.5" lengthAdjust="spacingAndGlyphs">(8'4&quot; X 16'4&quot;)</text>
<text class="b" x="1025.3" y="1637" font-size="24.3" text-anchor="middle" textLength="259.2" lengthAdjust="spacingAndGlyphs">BATHROOM/UTILITY</text>
<text class="n" x="1026.9" y="1658" font-size="21.2" text-anchor="middle" textLength="135.8" lengthAdjust="spacingAndGlyphs">1.89M X 4.04M</text>
<text class="n" x="1027.9" y="1678.3" font-size="21.2" text-anchor="middle" textLength="122.7" lengthAdjust="spacingAndGlyphs">(6'2&quot; X 13'3&quot;)</text>
<text class="b" x="379.3" y="1828.5" font-size="24.3" text-anchor="middle" textLength="144" lengthAdjust="spacingAndGlyphs">RECEPTION</text>
<text class="n" x="379.3" y="1849.5" font-size="21.2" text-anchor="middle" textLength="136.9" lengthAdjust="spacingAndGlyphs">4.30M X 3.06M</text>
<text class="n" x="379.3" y="1869.8" font-size="21.2" text-anchor="middle" textLength="115.3" lengthAdjust="spacingAndGlyphs">(14'1&quot; X 10')</text>
<text class="b" x="714.9" y="1892.1" font-size="24.3" text-anchor="middle" textLength="134.1" lengthAdjust="spacingAndGlyphs">ENTRANCE</text>
<text class="b" x="716.3" y="1916.1" font-size="24.3" text-anchor="middle" textLength="64.3" lengthAdjust="spacingAndGlyphs">HALL</text>
<text class="b" x="1081.3" y="1874.3" font-size="24.3" text-anchor="middle" textLength="85.1" lengthAdjust="spacingAndGlyphs">STUDY</text>
<text class="n" x="1081.3" y="1895.3" font-size="21.2" text-anchor="middle" textLength="136.6" lengthAdjust="spacingAndGlyphs">3.41M X 3.07M</text>
<text class="n" x="1081.3" y="1915.6" font-size="21.2" text-anchor="middle" textLength="134.3" lengthAdjust="spacingAndGlyphs">(11'2&quot; X 10'1&quot;)</text>
<text class="b" x="1624" y="852.6" font-size="24.3" text-anchor="middle" textLength="103.7" lengthAdjust="spacingAndGlyphs">GARAGE</text>
<text class="n" x="1624" y="873.6" font-size="21.2" text-anchor="middle" textLength="137.3" lengthAdjust="spacingAndGlyphs">4.86M X 5.00M</text>
<text class="n" x="1624" y="893.9" font-size="21.2" text-anchor="middle" textLength="145.4" lengthAdjust="spacingAndGlyphs">(15'11&quot; X 16'5&quot;)</text>
<text class="b" x="2110.6" y="879.8" font-size="24.3" text-anchor="middle" textLength="148.8" lengthAdjust="spacingAndGlyphs">WORKSHOP</text>
<text class="n" x="2110.6" y="900.8" font-size="21.2" text-anchor="middle" textLength="136.2" lengthAdjust="spacingAndGlyphs">4.44M X 2.53M</text>
<text class="n" x="2110.6" y="921.1" font-size="21.2" text-anchor="middle" textLength="122.6" lengthAdjust="spacingAndGlyphs">(14'7&quot; X 8'4&quot;)</text>
<text class="b" x="1498" y="1436.5" font-size="24.3" text-anchor="middle" textLength="150.4" lengthAdjust="spacingAndGlyphs">BEDROOM 2</text>
<text class="n" x="1498" y="1457.5" font-size="21.2" text-anchor="middle" textLength="136.7" lengthAdjust="spacingAndGlyphs">3.76M X 3.04M</text>
<text class="n" x="1498" y="1477.8" font-size="21.2" text-anchor="middle" textLength="114.8" lengthAdjust="spacingAndGlyphs">(12'4&quot; X 10')</text>
<text class="b" x="1799.3" y="1381.8" font-size="24.3" text-anchor="middle" textLength="150.2" lengthAdjust="spacingAndGlyphs">BEDROOM 5</text>
<text class="n" x="1799.3" y="1402.8" font-size="21.2" text-anchor="middle" textLength="136.3" lengthAdjust="spacingAndGlyphs">2.99M X 2.60M</text>
<text class="n" x="1799.3" y="1423.1" font-size="21.2" text-anchor="middle" textLength="123" lengthAdjust="spacingAndGlyphs">(9'10&quot; X 8'6&quot;)</text>
<text class="b" x="2154.9" y="1369.2" font-size="24.3" text-anchor="middle" textLength="69.9" lengthAdjust="spacingAndGlyphs">MAIN</text>
<text class="b" x="2154.9" y="1393.2" font-size="24.3" text-anchor="middle" textLength="127.7" lengthAdjust="spacingAndGlyphs">BEDROOM</text>
<text class="n" x="2154.9" y="1414.2" font-size="21.2" text-anchor="middle" textLength="137.6" lengthAdjust="spacingAndGlyphs">4.59M X 4.07M</text>
<text class="n" x="2154.9" y="1434.5" font-size="21.2" text-anchor="middle" textLength="134.6" lengthAdjust="spacingAndGlyphs">(15'1&quot; X 13'4&quot;)</text>
<text class="b" x="2210.5" y="1680.4" font-size="24.3" text-anchor="middle" textLength="120.4" lengthAdjust="spacingAndGlyphs">EN-SUITE</text>
<text class="b" x="1499.3" y="1817.4" font-size="24.3" text-anchor="middle" textLength="150.5" lengthAdjust="spacingAndGlyphs">BEDROOM 3</text>
<text class="n" x="1499.3" y="1838.4" font-size="21.2" text-anchor="middle" textLength="136.3" lengthAdjust="spacingAndGlyphs">3.62M X 3.05M</text>
<text class="n" x="1499.3" y="1858.7" font-size="21.2" text-anchor="middle" textLength="126.1" lengthAdjust="spacingAndGlyphs">(11'11&quot; X 10')</text>
<text class="b" x="1845.8" y="1954.2" font-size="24.3" text-anchor="middle" textLength="151.5" lengthAdjust="spacingAndGlyphs">BEDROOM 4</text>
<text class="n" x="1845.8" y="1975.2" font-size="21.2" text-anchor="middle" textLength="136.7" lengthAdjust="spacingAndGlyphs">2.37M X 3.59M</text>
<text class="n" x="1845.8" y="1995.5" font-size="21.2" text-anchor="middle" textLength="122.7" lengthAdjust="spacingAndGlyphs">(7'9&quot; X 11'9&quot;)</text>
<text class="b" x="2193.3" y="1873.5" font-size="24.3" text-anchor="middle" textLength="144.1" lengthAdjust="spacingAndGlyphs">BATHROOM</text>
</g>
</svg>
</body></html>
